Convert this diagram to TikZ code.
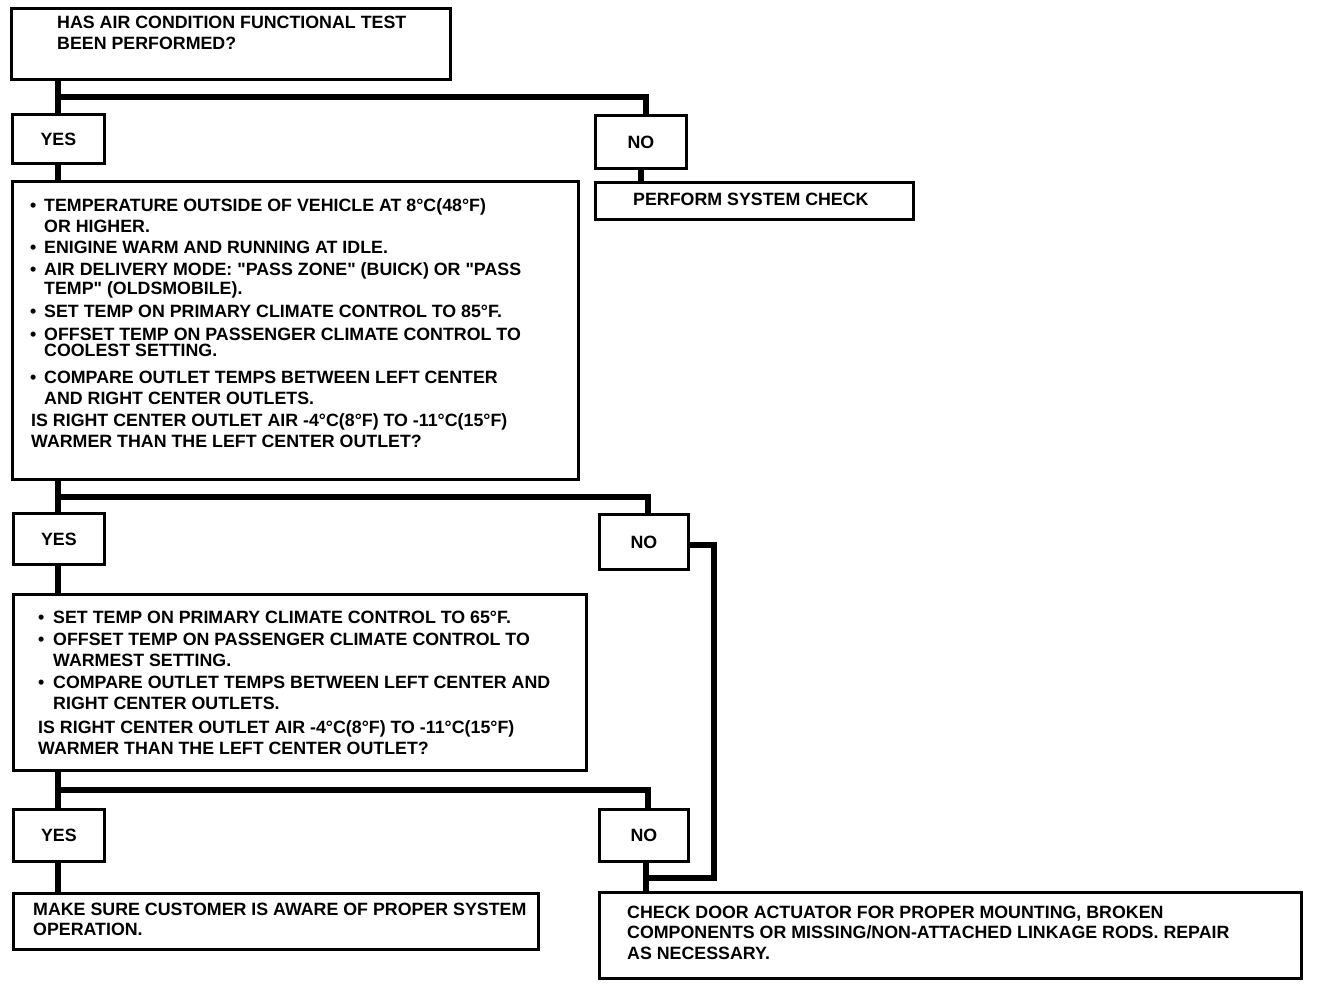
\documentclass[tikz,border=0pt]{standalone}
\usepackage{fontspec}
\setmainfont{Liberation Sans}[Ligatures=TeXOff]
\newcommand{\bul}[1]{\makebox[#1][l]{•}}
\begin{document}
\begin{tikzpicture}[x=1pt,y=-1pt,
  box/.style={draw,line width=2.8pt,anchor=north west,inner sep=0pt},
  conn/.style={line width=5.5pt,line join=miter},
  txt/.style={anchor=base west,inner sep=0pt,font=\fontsize{17.8}{20}\selectfont\bfseries},
  lab/.style={inner sep=0pt,font=\fontsize{17.8}{20}\selectfont\bfseries}]
\useasboundingbox (0,0) rectangle (1328,986);
% boxes
\node[box,minimum width=439pt,minimum height=71pt] (q1) at (10,7) {};
\node[box,minimum width=92pt,minimum height=49pt] (yes1) at (11,113) {};
\node[box,minimum width=91pt,minimum height=53pt] (no1) at (594,114) {};
\node[box,minimum width=318pt,minimum height=37pt] (perf) at (594,181) {};
\node[box,minimum width=566pt,minimum height=298pt] (q2) at (11,180) {};
\node[box,minimum width=91pt,minimum height=51pt] (yes2) at (12,512) {};
\node[box,minimum width=89pt,minimum height=55pt] (no2) at (598,513) {};
\node[box,minimum width=573pt,minimum height=176pt] (q3) at (12,593) {};
\node[box,minimum width=91pt,minimum height=52pt] (yes3) at (12,808) {};
\node[box,minimum width=89pt,minimum height=52pt] (no3) at (598,808) {};
\node[box,minimum width=525pt,minimum height=56pt] (ok) at (12,892) {};
\node[box,minimum width=702pt,minimum height=86pt] (fix) at (598,891) {};
% labels
\node[lab] (lyes1) at (yes1.center) {YES};
\node[lab] (lno1) at (no1.center) {NO};
\node[lab] (lyes2) at (yes2.center) {YES};
\node[lab] (lno2) at (no2.center) {NO};
\node[lab] (lyes3) at (yes3.center) {YES};
\node[lab] (lno3) at (no3.center) {NO};
% texts
\node[txt] (t1a) at (57,28) {HAS AIR CONDITION FUNCTIONAL TEST};
\node[txt] (t1b) at (57,49) {BEEN PERFORMED?};
\node[txt] (tp) at (633,205) {PERFORM SYSTEM CHECK};
\node[txt] (a1) at (30,211) {\bul{14pt}TEMPERATURE OUTSIDE OF VEHICLE AT 8°C(48°F)};
\node[txt] (a2) at (44,232) {OR HIGHER.};
\node[txt] (a3) at (30,253) {\bul{14pt}ENIGINE WARM AND RUNNING AT IDLE.};
\node[txt] (a4) at (30,275) {\bul{14pt}AIR DELIVERY MODE: "PASS ZONE" (BUICK) OR "PASS};
\node[txt] (a5) at (44,294) {TEMP" (OLDSMOBILE).};
\node[txt] (a6) at (30,317) {\bul{14pt}SET TEMP ON PRIMARY CLIMATE CONTROL TO 85°F.};
\node[txt] (a7) at (30,340) {\bul{14pt}OFFSET TEMP ON PASSENGER CLIMATE CONTROL TO};
\node[txt] (a8) at (44,356) {COOLEST SETTING.};
\node[txt] (a9) at (30,383) {\bul{14pt}COMPARE OUTLET TEMPS BETWEEN LEFT CENTER};
\node[txt] (a10) at (44,404) {AND RIGHT CENTER OUTLETS.};
\node[txt] (a11) at (31,426) {IS RIGHT CENTER OUTLET AIR -4°C(8°F) TO -11°C(15°F)};
\node[txt] (a12) at (31,447) {WARMER THAN THE LEFT CENTER OUTLET?};
\node[txt] (b1) at (38,623) {\bul{15pt}SET TEMP ON PRIMARY CLIMATE CONTROL TO 65°F.};
\node[txt] (b2) at (38,645) {\bul{15pt}OFFSET TEMP ON PASSENGER CLIMATE CONTROL TO};
\node[txt] (b3) at (53,666) {WARMEST SETTING.};
\node[txt] (b4) at (38,688) {\bul{15pt}COMPARE OUTLET TEMPS BETWEEN LEFT CENTER AND};
\node[txt] (b5) at (53,709) {RIGHT CENTER OUTLETS.};
\node[txt] (b6) at (38,733) {IS RIGHT CENTER OUTLET AIR -4°C(8°F) TO -11°C(15°F)};
\node[txt] (b7) at (38,754) {WARMER THAN THE LEFT CENTER OUTLET?};
\node[txt] (c1) at (33,915) {MAKE SURE CUSTOMER IS AWARE OF PROPER SYSTEM};
\node[txt] (c2) at (33,935) {OPERATION.};
\node[txt] (d1) at (627,918) {CHECK DOOR ACTUATOR FOR PROPER MOUNTING, BROKEN};
\node[txt] (d2) at (627,938) {COMPONENTS OR MISSING/NON-ATTACHED LINKAGE RODS. REPAIR};
\node[txt] (d3) at (627,959) {AS NECESSARY.};
% connectors
\coordinate (j1) at (58,97);  \coordinate (k1) at (646,97);
\coordinate (j2) at (58,497); \coordinate (k2) at (648,497);
\coordinate (j3) at (58,790); \coordinate (k3) at (648,790);
\coordinate (k4) at (714,545); \coordinate (k5) at (714,878); \coordinate (k6) at (646,878);
\draw[conn] (q1.south -| j1) -- (yes1.north -| j1);
\draw[conn] (j1) -- (k1) -- (k1 |- no1.north);
\draw[conn] (no1.south) -- (no1.south |- perf.north);
\draw[conn] (yes1.south -| j1) -- (q2.north -| j1);
\draw[conn] (q2.south -| j2) -- (yes2.north -| j2);
\draw[conn] (j2) -- (k2) -- (k2 |- no2.north);
\draw[conn] (yes2.south -| j2) -- (q3.north -| j2);
\draw[conn] (q3.south -| j3) -- (yes3.north -| j3);
\draw[conn] (j3) -- (k3) -- (k3 |- no3.north);
\draw[conn] (yes3.south -| j3) -- (ok.north -| j3);
\draw[conn] (no3.south -| k6) -- (fix.north -| k6);
\draw[conn] (no2.east |- k4) -- (k4) -- (k5) -- (k6);
\end{tikzpicture}
\end{document}
